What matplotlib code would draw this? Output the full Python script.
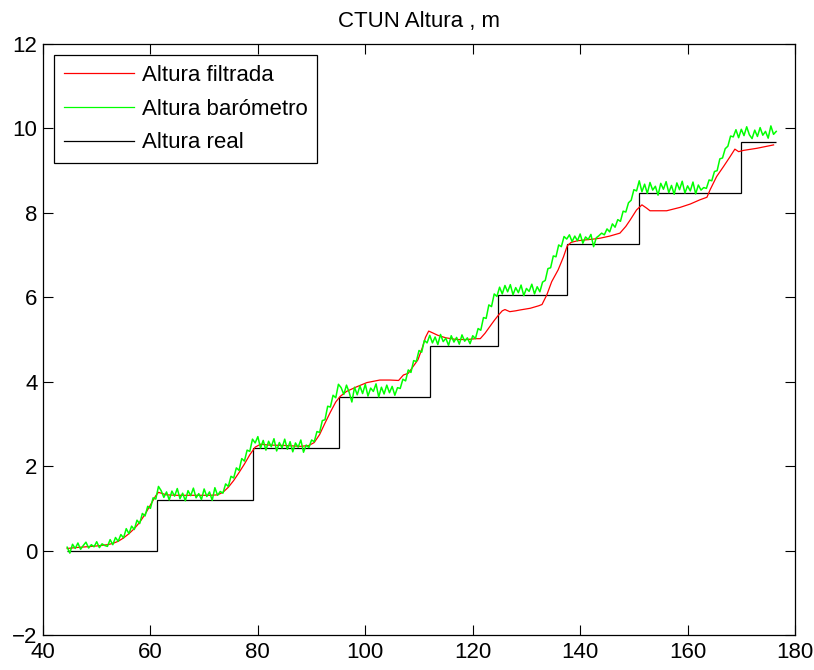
import numpy as np
import matplotlib
matplotlib.use("Agg")
import matplotlib.pyplot as plt
from matplotlib.lines import Line2D

plt.rcParams['font.family'] = ['Liberation Sans', 'DejaVu Sans']

# Barometer altitude: samples every 0.5 s starting at t = 44.5
baro_t0 = 44.5
baro_dt = 0.5
baro_values = [
    0.08, -0.06, 0.15, 0.05, 0.18, 0.03, 0.12, 0.20, 0.06, 0.14, 0.09, 0.21, 0.07, 0.16, 0.12,
    0.10, 0.26, 0.14, 0.31, 0.22, 0.38, 0.30, 0.52, 0.40, 0.58, 0.50, 0.72, 0.64, 0.88, 0.82, 1.05, 1.00, 1.25, 1.22, 1.52,
    1.42, 1.26, 1.39, 1.20, 1.41, 1.29, 1.47, 1.23, 1.36, 1.18, 1.42, 1.30, 1.48, 1.25, 1.35, 1.21, 1.46, 1.28, 1.39, 1.19, 1.49, 1.31, 1.40,
    1.36, 1.58, 1.52, 1.76, 1.72, 1.96, 1.90, 2.18, 2.12, 2.38, 2.35, 2.64, 2.55,
    2.70, 2.43, 2.61, 2.38, 2.59, 2.46, 2.65, 2.36, 2.56, 2.43, 2.64, 2.40, 2.58, 2.34, 2.55, 2.45, 2.62, 2.33, 2.50,
    2.44, 2.62, 2.58, 2.82, 2.80, 3.08, 3.10, 3.42, 3.40, 3.68, 3.62, 3.94, 3.86,
    3.70, 3.92, 3.75, 3.52, 3.87, 3.69, 3.90, 3.72, 3.94, 3.66, 3.85, 3.77, 3.95, 3.64, 3.87, 3.71, 3.92, 3.74, 3.89, 3.68, 3.86,
    3.84, 4.06, 4.02, 4.28, 4.22, 4.50, 4.48, 4.74, 4.70, 4.98, 4.92,
    5.10, 4.92, 5.06, 4.88, 5.12, 4.95, 5.03, 4.86, 5.09, 4.94, 5.05, 4.89, 5.11, 4.96, 5.04, 4.90, 5.09, 5.02,
    5.26, 5.22, 5.52, 5.50, 5.82, 5.78, 6.08, 6.02, 6.24,
    6.08, 6.28, 6.13, 6.30, 6.06, 6.23, 6.11, 6.29, 6.04, 6.21, 6.14, 6.31, 6.08, 6.25, 6.13,
    6.36, 6.40, 6.68, 6.70, 6.98, 6.96, 7.24, 7.20, 7.44, 7.38,
    7.48, 7.32, 7.45, 7.34, 7.50, 7.28, 7.43, 7.37, 7.49, 7.20, 7.41, 7.46,
    7.52, 7.48, 7.62, 7.55, 7.74, 7.66, 7.84, 7.80, 8.04, 8.02, 8.24, 8.30, 8.55, 8.52, 8.76,
    8.50, 8.68, 8.46, 8.72, 8.54, 8.63, 8.42, 8.70, 8.56, 8.74, 8.48, 8.65, 8.44, 8.71, 8.55, 8.75, 8.47, 8.64, 8.52, 8.73, 8.45, 8.66, 8.54, 8.60,
    8.58, 8.78, 8.76, 8.98, 9.00, 9.28, 9.30, 9.52, 9.58, 9.82, 9.80, 9.97,
    9.78, 9.98, 9.83, 10.04, 9.85, 9.76, 9.96, 9.81, 10.02, 9.84, 9.93, 9.77, 10.06, 9.86, 9.93,
]

# Filtered altitude
filt_t = [44.5, 46, 48, 50, 52, 53, 54, 55, 56, 57, 58, 59, 60, 61, 61.5, 62, 63, 65, 68, 71, 72.5,
          73.5, 74.5, 75.5, 76.5, 77.5, 78.5, 79.5, 80.5, 82, 85, 88, 89.5, 90.5, 91.5, 92.5, 93.5,
          94.5, 95.3, 96.5, 98.4, 100.3, 102.7, 104.6, 106.2, 107.1, 108, 108.9, 109.8, 110.6, 111.2,
          111.8, 112.5, 113.5, 115, 117, 119, 120.5, 121.4, 122.3, 123.2, 124, 124.8, 125.5, 126,
          126.9, 128, 128.8, 130.7, 132.3, 132.9, 133.8, 134.7, 135.9, 136.9, 137.6, 138.3, 139.5,
          141, 142.5, 143.7, 145.5, 147.4, 148.5, 149.3, 150.5, 151.5, 152.4, 153, 156.1, 158.6,
          160.5, 162.3, 163.6, 164.2, 165.4, 166.7, 167.9, 168.8, 169.5, 170.4, 172.9, 176]
filt_h = [0.05, 0.07, 0.09, 0.11, 0.14, 0.17, 0.22, 0.30, 0.40, 0.52, 0.67, 0.86, 1.08, 1.30, 1.38, 1.36, 1.32, 1.31, 1.31, 1.31, 1.32,
          1.38, 1.50, 1.66, 1.85, 2.05, 2.27, 2.45, 2.52, 2.50, 2.49, 2.47, 2.49, 2.56, 2.75, 3.02, 3.28,
          3.52, 3.65, 3.77, 3.88, 3.98, 4.04, 4.04, 4.03, 4.16, 4.20, 4.36, 4.52, 4.80, 5.05,
          5.20, 5.16, 5.10, 5.04, 5.00, 5.00, 5.02, 5.02, 5.15, 5.31, 5.45, 5.58, 5.68, 5.71,
          5.66, 5.68, 5.70, 5.74, 5.80, 5.83, 6.06, 6.37, 6.65, 6.96, 7.22, 7.30, 7.34,
          7.36, 7.38, 7.40, 7.45, 7.52, 7.68, 7.83, 8.07, 8.19, 8.11, 8.05, 8.05, 8.13,
          8.21, 8.31, 8.37, 8.55, 8.86, 9.10, 9.33, 9.51, 9.45, 9.48, 9.53, 9.61]

# Real altitude (steps)
real_edges = [44.5, 61.2, 79.1, 95.1, 112.1, 124.7, 137.6, 150.9, 170.0, 176.5]
real_levels = [0.0, 1.21, 2.42, 3.63, 4.84, 6.05, 7.26, 8.47, 9.68]

labels = ['Altura filtrada', 'Altura barómetro', 'Altura real']
colors = [(1, 0, 0), (0, 1, 0), (0, 0, 0)]

baro_t = baro_t0 + baro_dt * np.arange(len(baro_values))

fig = plt.figure(figsize=(8.14, 6.70), dpi=100)
ax = fig.add_axes([0.0528, 0.0522, 0.9239, 0.8821])

ax.plot(filt_t, filt_h, color=colors[0], lw=0.9)
ax.plot(baro_t, baro_values, color=colors[1], lw=1.1)
ax.stairs(real_levels, real_edges, color=colors[2], lw=0.9, baseline=None)

ax.set_xlim(40, 180)
ax.set_ylim(-2, 12)
ax.set_xticks(np.arange(40, 181, 20))
ax.set_yticks(np.arange(-2, 13, 2))
ax.tick_params(direction='in', top=True, right=True, length=7, width=0.8, labelsize=16)
ax.tick_params(axis='x', pad=5)
ax.tick_params(axis='y', pad=4)
for s in ax.spines.values():
    s.set_linewidth(0.9)

ax.set_title('CTUN Altura , m', fontsize=16, pad=12)

handles = [Line2D([], [], color=c, lw=0.9) for c in colors]
leg = ax.legend(handles, labels,
                loc='upper left', fontsize=16, fancybox=False, framealpha=1,
                edgecolor='black', handlelength=3.15, borderaxespad=0.5,
                labelspacing=0.58, handletextpad=0.36, borderpad=0.43)
leg.get_frame().set_linewidth(0.9)

fig.savefig('out.png', dpi=100)
